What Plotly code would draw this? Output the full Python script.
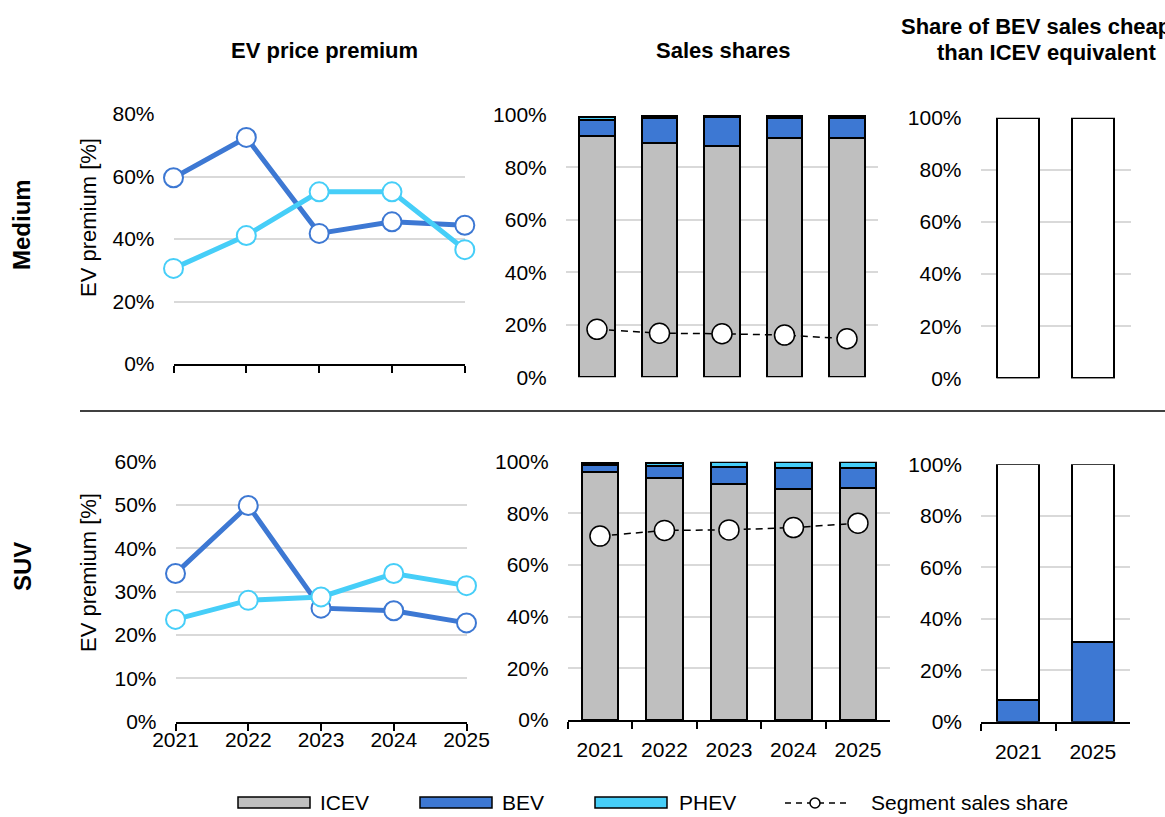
import plotly.graph_objects as go

# ---------------- data ----------------
years = [2021, 2022, 2023, 2024, 2025]
year_labels = ["2021", "2022", "2023", "2024", "2025"]
cheap_years = ["2021", "2025"]

med_bev_premium = [0.596, 0.725, 0.418, 0.455, 0.444]
med_phev_premium = [0.306, 0.411, 0.551, 0.551, 0.366]
suv_bev_premium = [0.342, 0.499, 0.262, 0.256, 0.228]
suv_phev_premium = [0.236, 0.280, 0.288, 0.342, 0.314]

med_icev_share = [0.921, 0.892, 0.883, 0.911, 0.911]
med_bev_share = [0.060, 0.095, 0.108, 0.076, 0.078]
med_phev_share = [0.012, 0.008, 0.005, 0.008, 0.008]
med_segment_share = [0.183, 0.168, 0.166, 0.161, 0.147]

suv_icev_share = [0.961, 0.938, 0.912, 0.894, 0.899]
suv_bev_share = [0.028, 0.047, 0.066, 0.083, 0.075]
suv_phev_share = [0.007, 0.011, 0.020, 0.021, 0.024]
suv_segment_share = [0.712, 0.734, 0.736, 0.745, 0.762]

med_bev_cheaper = [0.0, 0.003]
suv_bev_cheaper = [0.083, 0.311]

# ---------------- style ----------------
W, H = 1165, 817
FONT = "Liberation Sans, Arial, sans-serif"
C_ICEV = "#BFBFBF"
C_BEV = "#3D78D3"
C_PHEV = "#46CEF8"
GRID = "#D9D9D9"


def dx(a, b):
    return [a / W, b / W]


def dy(top, bottom):
    return [1 - bottom / H, 1 - top / H]


fig = go.Figure()


def premium_lines(xa, ya, bev, phev):
    for vals, col in ((bev, C_BEV), (phev, C_PHEV)):
        fig.add_trace(go.Scatter(
            x=years, y=vals, xaxis=xa, yaxis=ya, mode="lines+markers",
            line=dict(color=col, width=5),
            marker=dict(size=19, color="white", line=dict(color=col, width=2)),
            cliponaxis=False, showlegend=False, hoverinfo="skip"))


def share_bars(xa, ya, icev, bev, phev, seg):
    for vals, col in ((icev, C_ICEV), (bev, C_BEV), (phev, C_PHEV)):
        fig.add_trace(go.Bar(
            x=year_labels, y=vals, xaxis=xa, yaxis=ya, width=0.57,
            marker=dict(color=col, line=dict(color="black", width=2)),
            showlegend=False, hoverinfo="skip"))
    fig.add_trace(go.Scatter(
        x=year_labels, y=seg, xaxis=xa, yaxis=ya, mode="lines+markers",
        line=dict(color="black", width=1.5, dash="7px,5px"),
        marker=dict(size=20, color="white", line=dict(color="black", width=1.5)),
        cliponaxis=False, showlegend=False, hoverinfo="skip"))


def cheaper_bars(xa, ya, vals):
    rest = [1 - v for v in vals]
    fig.add_trace(go.Bar(
        x=cheap_years, y=vals, xaxis=xa, yaxis=ya, width=0.57,
        marker=dict(color=C_BEV, line=dict(color="black", width=2)),
        showlegend=False, hoverinfo="skip"))
    fig.add_trace(go.Bar(
        x=cheap_years, y=rest, xaxis=xa, yaxis=ya, width=0.57,
        marker=dict(color="white", line=dict(color="black", width=2)),
        showlegend=False, hoverinfo="skip"))


premium_lines("x", "y", med_bev_premium, med_phev_premium)
share_bars("x2", "y2", med_icev_share, med_bev_share, med_phev_share, med_segment_share)
cheaper_bars("x3", "y3", med_bev_cheaper)
premium_lines("x4", "y4", suv_bev_premium, suv_phev_premium)
share_bars("x5", "y5", suv_icev_share, suv_bev_share, suv_phev_share, suv_segment_share)
cheaper_bars("x6", "y6", suv_bev_cheaper)

tickfont = dict(family=FONT, size=21, color="black")

yaxis_common = dict(showgrid=True, gridcolor=GRID, gridwidth=2, zeroline=False,
                    showline=False, ticks="", tickformat=".0%", tickfont=tickfont,
                    ticklabelstandoff=18, fixedrange=True, automargin=False)

black_axis = dict(showline=True, linecolor="black", linewidth=2, ticks="outside",
                  ticklen=7, tickwidth=2, tickcolor="black", showgrid=False,
                  zeroline=False, tickfont=tickfont, fixedrange=True, automargin=False)

plain_x = dict(showline=False, ticks="", showticklabels=False, showgrid=False,
               zeroline=False, fixedrange=True, automargin=False)

fig.update_layout(
    width=W, height=H,
    margin=dict(l=0, r=0, t=0, b=0, pad=0, autoexpand=False),
    paper_bgcolor="white", plot_bgcolor="white", barmode="stack",
    font=dict(family=FONT, color="black"),
    showlegend=False,
    # top row
    xaxis=dict(domain=dx(173.5, 464.8), anchor="y", range=[2021, 2025],
               tickvals=years, showticklabels=False, **black_axis),
    yaxis=dict(domain=dy(114, 364), anchor="x", range=[0, 0.8],
               tickvals=[0, 0.2, 0.4, 0.6, 0.8], **yaxis_common),
    xaxis2=dict(domain=dx(565.75, 878.25), anchor="y2", type="category",
                range=[-0.5, 4.5], **plain_x),
    yaxis2=dict(domain=dy(115, 377.3), anchor="x2", range=[0, 1],
                tickvals=[0, 0.2, 0.4, 0.6, 0.8, 1.0], **yaxis_common),
    xaxis3=dict(domain=dx(980.5, 1130.5), anchor="y3", type="category",
                range=[-0.5, 1.5], **plain_x),
    yaxis3=dict(domain=dy(117.7, 378.3), anchor="x3", range=[0, 1],
                tickvals=[0, 0.2, 0.4, 0.6, 0.8, 1.0], **yaxis_common),
    # bottom row
    xaxis4=dict(domain=dx(175.5, 466.5), anchor="y4", range=[2021, 2025],
                tickvals=years, ticktext=year_labels, ticklabelstandoff=-9, **black_axis),
    yaxis4=dict(domain=dy(461.7, 721.7), anchor="x4", range=[0, 0.6],
                tickvals=[0, 0.1, 0.2, 0.3, 0.4, 0.5, 0.6], **yaxis_common),
    xaxis5=dict(domain=dx(567.7, 890.2), anchor="y5", type="category",
                range=[-0.5, 4.5], tickson="boundaries", ticklabelstandoff=10,
                **black_axis),
    yaxis5=dict(domain=dy(461.7, 720), anchor="x5", range=[0, 1],
                tickvals=[0, 0.2, 0.4, 0.6, 0.8, 1.0], **yaxis_common),
    xaxis6=dict(domain=dx(981, 1130), anchor="y6", type="category",
                range=[-0.5, 1.5], tickson="boundaries", ticklabelstandoff=10,
                **black_axis),
    yaxis6=dict(domain=dy(464.3, 721.7), anchor="x6", range=[0, 1],
                tickvals=[0, 0.2, 0.4, 0.6, 0.8, 1.0], **yaxis_common),
)

# ---------------- text ----------------
ann = []


def add_text(text, x, y, size=20, bold=False, angle=0, xanchor="center",
             yanchor="middle", family=FONT):
    ann.append(dict(
        text=f"<b>{text}</b>" if bold else text, x=x / W, y=1 - y / H,
        xref="paper", yref="paper", showarrow=False, textangle=angle,
        xanchor=xanchor, yanchor=yanchor,
        font=dict(family=family, size=size, color="black")))


add_text("EV price premium", 324, 51, size=22, bold=True)
add_text("Sales shares", 723, 51, size=22, bold=True)
add_text("Share of BEV sales cheaper", 1046, 27, size=22, bold=True)
add_text("than ICEV equivalent", 1046, 52, size=22, bold=True)
add_text("Medium", 22, 225, size=24, bold=True, angle=-90)
add_text("SUV", 22, 567, size=24, bold=True, angle=-90)
add_text("EV premium [%]", 88, 218, size=22, angle=-90)
add_text("EV premium [%]", 88, 573, size=22, angle=-90)

# ---------------- legend (drawn) ----------------
shapes = []


def px_rect(x0, x1, y0, y1, fill):
    shapes.append(dict(type="rect", xref="paper", yref="paper",
                       x0=x0 / W, x1=x1 / W, y0=1 - y1 / H, y1=1 - y0 / H,
                       fillcolor=fill, line=dict(color="black", width=1.5)))


LEG_Y = 802
legend_items = [("ICEV", C_ICEV, 238, 318), ("BEV", C_BEV, 420, 500),
                ("PHEV", C_PHEV, 595, 677)]
for name, col, bx, tx in legend_items:
    px_rect(bx, bx + 72, LEG_Y - 5, LEG_Y + 6, col)
    add_text(name, tx, LEG_Y, size=21, xanchor="left")

shapes.append(dict(type="line", xref="paper", yref="paper",
                   x0=785 / W, x1=847 / W, y0=1 - (LEG_Y + 1) / H, y1=1 - (LEG_Y + 1) / H,
                   line=dict(color="black", width=1.5, dash="6px,5px")))
shapes.append(dict(type="circle", xref="paper", yref="paper",
                   x0=810 / W, x1=820 / W, y0=1 - (LEG_Y + 6) / H, y1=1 - (LEG_Y - 4) / H,
                   fillcolor="white", line=dict(color="black", width=1.5)))
add_text("Segment sales share", 869, LEG_Y, size=21, xanchor="left")

# separator between rows
shapes.append(dict(type="line", xref="paper", yref="paper",
                   x0=80 / W, x1=1.0, y0=1 - 411 / H, y1=1 - 411 / H,
                   line=dict(color="black", width=1.5)))

fig.update_layout(annotations=ann, shapes=shapes)

fig.write_html(
    "out.html",
    config={"displayModeBar": False},
    post_script="document.body.style.margin='0px';document.body.style.overflow='hidden';",
)
